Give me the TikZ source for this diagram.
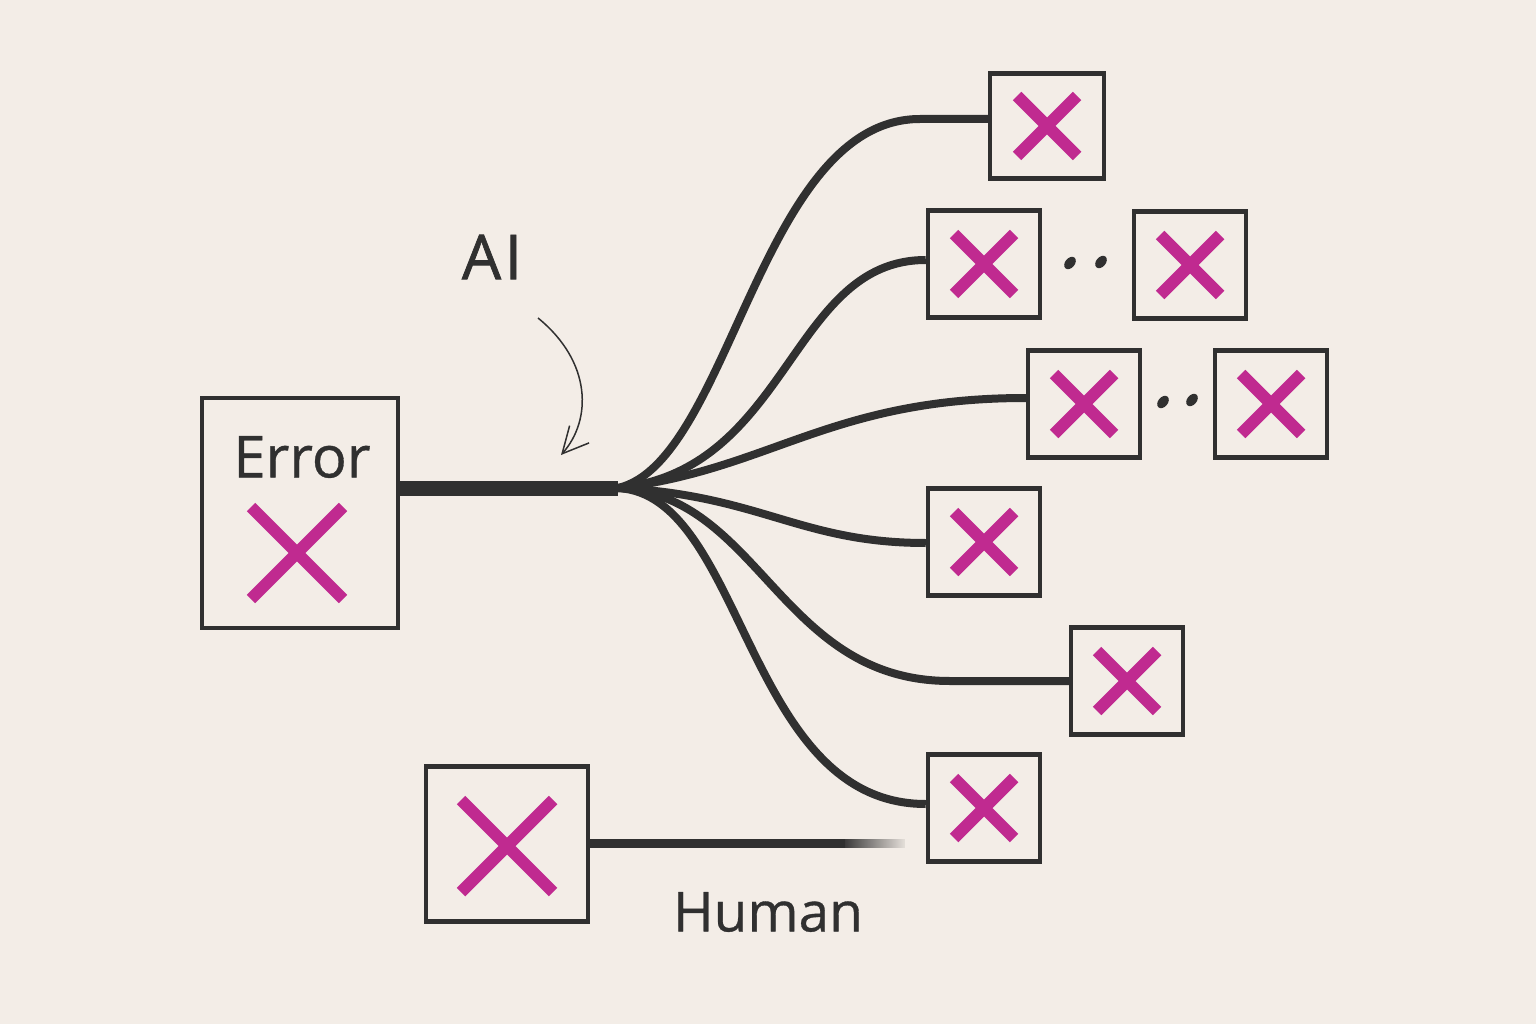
\documentclass[tikz,border=0pt]{standalone}
\usepackage{fontspec}
\setmainfont{Open Sans}
\usetikzlibrary{arrows.meta,fadings}
\definecolor{bg}{HTML}{F3EDE7}
\definecolor{ink}{HTML}{303030}
\definecolor{mag}{HTML}{C02A90}
\begin{document}
\begin{tikzpicture}[x=1pt,y=-1pt,
  box/.style={draw=ink, line width=4.5pt, minimum width=112pt, minimum height=107pt, inner sep=0pt},
  xline/.style={draw=mag, line width=12pt},
  wire/.style={draw=ink, line width=8pt},
  lbl/.style={text=ink, inner sep=0pt},
  dot/.style={fill=ink},
  pics/xm/.style={code={\draw[xline] (-#1,-#1) -- (#1,#1) (-#1,#1) -- (#1,-#1);}}
]
\fill[bg] (0,0) rectangle (1536,1024);
\useasboundingbox (0,0) rectangle (1536,1024);

% source box
\node[box, minimum width=196pt, minimum height=230pt] (err) at (300,513) {};
\node[lbl, font=\fontsize{58}{62}\selectfont\addfontfeature{FakeBold=0.6}] (errt) at (302,457) {Error};
\pic at (297,553) {xm=46};

% target boxes
\node[box, minimum width=114pt, minimum height=105pt] (t1) at (1047,126) {};
\node[box] (b2a) at (984,264) {};
\node[box] (b2b) at (1190,265) {};
\node[box] (b3a) at (1084,404) {};
\node[box] (b3b) at (1271,404) {};
\node[box] (b4) at (984,542) {};
\node[box] (b5) at (1127,681) {};
\node[box] (b6) at (984,808) {};
\foreach \n in {t1,b2a,b2b,b3a,b3b,b4,b5,b6} {\pic at (\n) {xm=30};}

% ellipsis dots
\foreach \p in {(1070,263),(1101,262),(1163,402),(1192,400)}
  \fill[dot] \p ellipse [x radius=7, y radius=4.8, rotate=50];

% human box
\node[box, minimum width=162pt, minimum height=155pt] (hum) at (507,844) {};
\pic at (507,846) {xm=46};

% labels
\node[lbl, font=\fontsize{62}{66}\selectfont\addfontfeature{FakeBold=1.2,LetterSpace=6}] (ai) at (492,257) {AI};
\node[lbl, font=\fontsize{55}{60}\selectfont\addfontfeature{FakeBold=0.6}] (humt) at (768,912) {Human};

% trunk and fan
\coordinate (j) at (618,488);
\coordinate (e1) at (920,119);
\coordinate (e5) at (950,681);
\draw[wire, line width=15pt] (err.east |- j) -- (j);
\draw[wire] (j) .. controls (730,462) and (760,119) .. (e1) -- (t1.west |- e1);
\draw[wire] (j) .. controls (790,470) and (790,260) .. (b2a.west |- 0,260);
\draw[wire] (j) .. controls (770,470) and (830,398) .. (b3a.west |- 0,398);
\draw[wire] (j) .. controls (760,495) and (800,543) .. (b4.west |- 0,543);
\draw[wire] (j) .. controls (760,495) and (780,681) .. (e5) -- (b5.west);
\draw[wire] (j) .. controls (745,495) and (745,804) .. (b6.west |- 0,804);

% human connector
\coordinate (hm) at (845,843);
\coordinate (he) at (905,843);
\draw[wire, line width=9pt] (hum.east |- hm) -- (hm);
\draw[wire, line width=9pt, path fading=east] (hm) -- (he);

% AI arrow
\coordinate (a1) at (538,318);
\coordinate (a2) at (561,455);
\draw[ink, line width=1.5pt, -{Straight Barb[length=26pt, width=26pt]}] (a1) .. controls (592,362) and (592,420) .. (a2);
\end{tikzpicture}
\end{document}
